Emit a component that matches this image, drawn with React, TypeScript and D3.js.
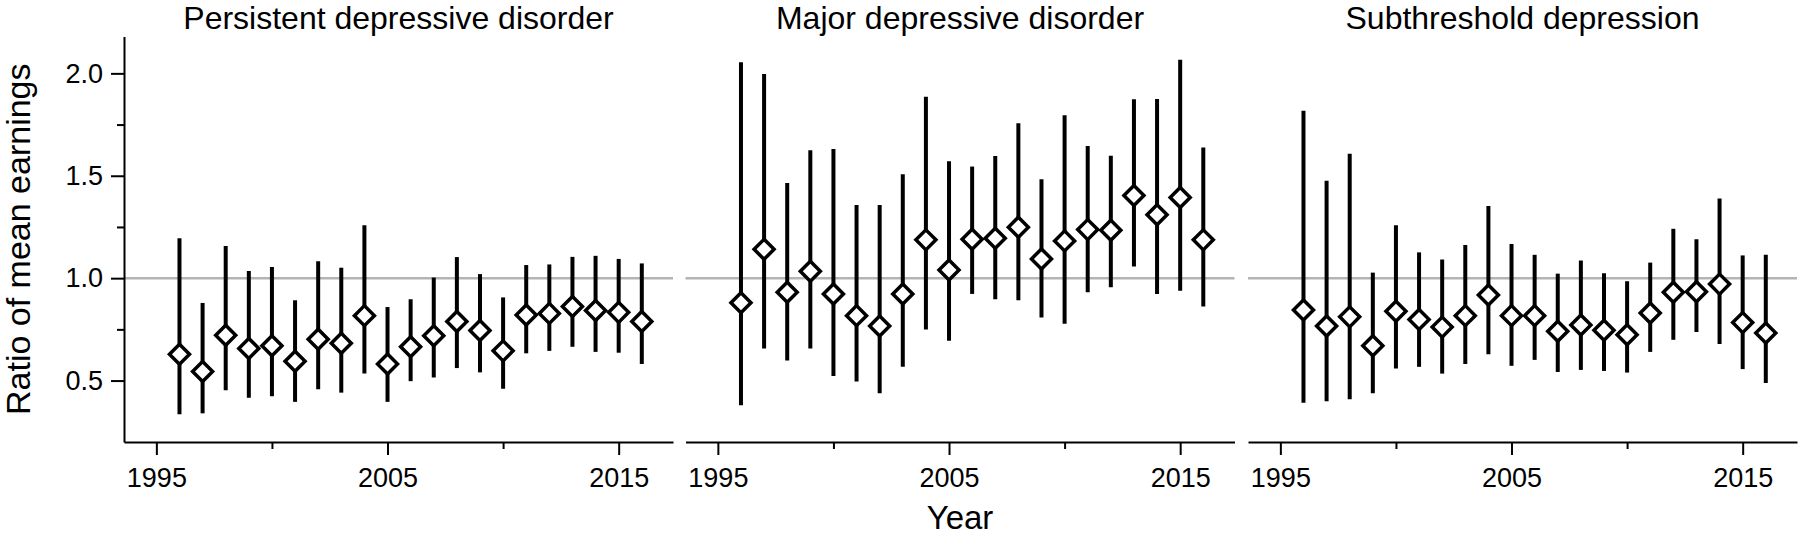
import React, { useEffect, useRef } from 'react';
import * as d3 from 'd3';

const years = [1996, 1997, 1998, 1999, 2000, 2001, 2002, 2003, 2004, 2005, 2006, 2007, 2008, 2009, 2010, 2011, 2012, 2013, 2014, 2015, 2016];

const panelTitles = ['Persistent depressive disorder', 'Major depressive disorder', 'Subthreshold depression'];

const pddMean = [0.628, 0.544, 0.721, 0.657, 0.670, 0.594, 0.702, 0.682, 0.817, 0.581, 0.665, 0.719, 0.788, 0.744, 0.645, 0.820, 0.828, 0.862, 0.842, 0.833, 0.788];
const pddLow = [0.335, 0.340, 0.453, 0.416, 0.424, 0.396, 0.458, 0.441, 0.534, 0.396, 0.497, 0.515, 0.561, 0.540, 0.460, 0.633, 0.645, 0.665, 0.640, 0.636, 0.581];
const pddHigh = [1.195, 0.879, 1.157, 1.035, 1.054, 0.892, 1.082, 1.051, 1.258, 0.859, 0.897, 1.003, 1.103, 1.020, 0.906, 1.064, 1.067, 1.104, 1.109, 1.094, 1.072];

const mddMean = [0.880, 1.141, 0.931, 1.034, 0.923, 0.817, 0.766, 0.923, 1.187, 1.040, 1.190, 1.195, 1.249, 1.094, 1.182, 1.237, 1.234, 1.404, 1.310, 1.394, 1.187];
const mddLow = [0.379, 0.657, 0.598, 0.657, 0.522, 0.495, 0.438, 0.567, 0.749, 0.694, 0.923, 0.897, 0.892, 0.808, 0.778, 0.931, 0.956, 1.057, 0.923, 0.939, 0.862];
const mddHigh = [2.054, 1.997, 1.465, 1.625, 1.631, 1.357, 1.357, 1.507, 1.886, 1.571, 1.545, 1.596, 1.756, 1.483, 1.796, 1.645, 1.598, 1.874, 1.875, 2.066, 1.638];

const subMean = [0.845, 0.766, 0.811, 0.670, 0.838, 0.798, 0.761, 0.817, 0.918, 0.817, 0.817, 0.741, 0.771, 0.746, 0.724, 0.830, 0.931, 0.934, 0.971, 0.783, 0.732];
const subLow = [0.392, 0.399, 0.409, 0.438, 0.559, 0.567, 0.534, 0.581, 0.628, 0.572, 0.601, 0.542, 0.552, 0.547, 0.539, 0.640, 0.699, 0.737, 0.678, 0.556, 0.488];
const subHigh = [1.818, 1.476, 1.608, 1.027, 1.258, 1.126, 1.091, 1.162, 1.352, 1.167, 1.114, 1.022, 1.086, 1.024, 0.985, 1.076, 1.241, 1.190, 1.389, 1.111, 1.114];

const yMajorTicks = [0.5, 1.0, 1.5, 2.0];
const yMinorTicks = [0.75, 1.25, 1.75];
const xMajorTicks = [1995, 2005, 2015];
const xMinorTicks = [2000, 2010];
const referenceValue = 1.0;

const yLabel = 'Ratio of mean earnings';
const xLabel = 'Year';

const W = 1800;
const H = 535;
const panelLefts = [124, 685.5, 1248];
const panelWidth = 549;
const FONT = '"Liberation Sans", Arial, Helvetica, sans-serif';

export default function App() {
  const ref = useRef<SVGSVGElement | null>(null);

  useEffect(() => {
    const svg = d3.select(ref.current);
    svg.selectAll('*').remove();

    const y = d3.scaleLinear().domain([0.2, 2.18]).range([442, 36.5]);
    const xAxisY = y(0.2);

    const data = [
      { mean: pddMean, low: pddLow, high: pddHigh },
      { mean: mddMean, low: mddLow, high: mddHigh },
      { mean: subMean, low: subLow, high: subHigh },
    ];

    const diamond = d3.symbol(d3.symbolSquare, 200)();

    data.forEach((series, pi) => {
      const left = panelLefts[pi];
      const x = d3.scaleLinear().domain([1993.6, 2017.35]).range([left, left + panelWidth]);
      const g = svg.append('g');

      g.append('line')
        .attr('x1', x.range()[0]).attr('x2', x.range()[1])
        .attr('y1', y(referenceValue)).attr('y2', y(referenceValue))
        .attr('stroke', '#b4b4b4').attr('stroke-width', 2.5);

      const xAx = g.append('g').attr('transform', `translate(0,${xAxisY})`)
        .call(d3.axisBottom(x).tickValues(xMajorTicks).tickSize(13).tickSizeOuter(0).tickPadding(13).tickFormat(d3.format('d')));
      xAx.select('.domain').attr('stroke-width', 2);
      xAx.selectAll('.tick line').attr('stroke-width', 2);
      xAx.selectAll('.tick text').attr('font-size', 27).attr('font-family', FONT).attr('fill', '#000');
      const xMin = g.append('g').attr('transform', `translate(0,${xAxisY})`)
        .call(d3.axisBottom(x).tickValues(xMinorTicks).tickSize(7).tickSizeOuter(0).tickFormat(() => ''));
      xMin.select('.domain').remove();
      xMin.selectAll('.tick line').attr('stroke-width', 2);

      if (pi === 0) {
        const yAx = g.append('g').attr('transform', `translate(${left},0)`)
          .call(d3.axisLeft(y).tickValues(yMajorTicks).tickSize(13).tickSizeOuter(0).tickPadding(8).tickFormat(d3.format('.1f')));
        yAx.select('.domain').attr('stroke-width', 2);
        yAx.selectAll('.tick line').attr('stroke-width', 2);
        yAx.selectAll('.tick text').attr('font-size', 27).attr('font-family', FONT).attr('fill', '#000');
        const yMin = g.append('g').attr('transform', `translate(${left},0)`)
          .call(d3.axisLeft(y).tickValues(yMinorTicks).tickSize(7).tickSizeOuter(0).tickFormat(() => ''));
        yMin.select('.domain').remove();
        yMin.selectAll('.tick line').attr('stroke-width', 2);
      }

      g.append('text')
        .attr('x', left + panelWidth / 2).attr('y', 29)
        .attr('text-anchor', 'middle').attr('font-size', 32).attr('font-family', FONT)
        .text(panelTitles[pi]);

      g.selectAll('line.err').data(years).enter().append('line')
        .attr('class', 'err')
        .attr('x1', (d) => x(d)).attr('x2', (d) => x(d))
        .attr('y1', (_d, i) => y(series.low[i])).attr('y2', (_d, i) => y(series.high[i]))
        .attr('stroke', '#000').attr('stroke-width', 4);

      g.selectAll('path.pt').data(years).enter().append('path')
        .attr('class', 'pt')
        .attr('d', diamond)
        .attr('transform', (d, i) => `translate(${x(d)},${y(series.mean[i])}) rotate(45)`)
        .attr('fill', '#fff').attr('stroke', '#000').attr('stroke-width', 3.5);
    });

    svg.append('text')
      .attr('transform', `translate(30,${(y(0.2) + y(2.18)) / 2}) rotate(-90)`)
      .attr('text-anchor', 'middle').attr('font-size', 34).attr('font-family', FONT)
      .text(yLabel);

    svg.append('text')
      .attr('x', panelLefts[1] + panelWidth / 2).attr('y', 529)
      .attr('text-anchor', 'middle').attr('font-size', 33).attr('font-family', FONT)
      .text(xLabel);
  }, []);

  return (
    <svg
      ref={ref}
      width={W}
      height={H}
      viewBox={`0 0 ${W} ${H}`}
      style={{ position: 'absolute', left: 0, top: 0, display: 'block', background: '#fff' }}
    />
  );
}
